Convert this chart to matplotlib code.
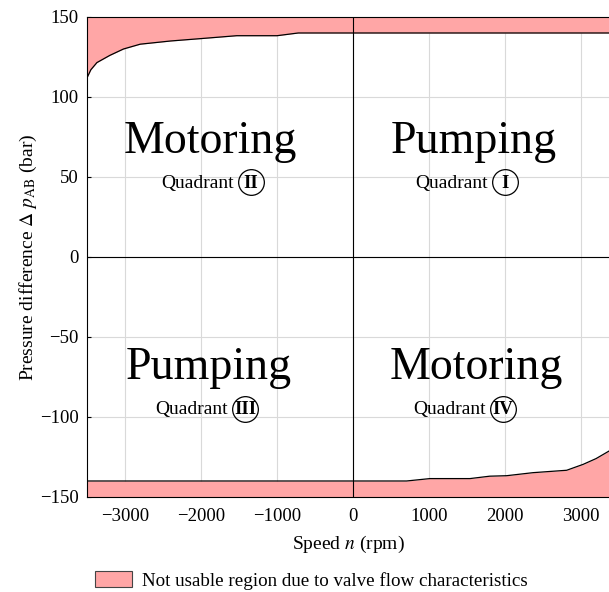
import numpy as np
import matplotlib
matplotlib.use('Agg')
import matplotlib.pyplot as plt
from matplotlib.patches import Patch

# Boundary of the usable region
speed_upper = [-3500, -3450, -3370, -3200, -3020, -2800, -2400, -2000, -1530, -1000, -720, 0, 1000, 2000, 3370]
dp_upper = [112, 117, 121.5, 126, 130, 133, 135, 136.5, 138.3, 138.3, 140, 140, 140, 140, 140]

speed_lower = [-3500, -1000, 0, 706, 1013, 1540, 1800, 2022, 2370, 2813, 3030, 3200, 3370]
dp_lower = [-140, -140, -140, -140, -138.5, -138.5, -137, -136.7, -134.8, -133.3, -129.6, -126, -121.3]

# (title, title x, title y, numeral, numeral x, numeral y)
quadrants = [
    ('Motoring', -1880, 72, 'II', -1342, 46),
    ('Pumping', 1590, 72, 'I', 2000, 46),
    ('Pumping', -1895, -69, 'III', -1421, -95.5),
    ('Motoring', 1620, -69, 'IV', 1974, -95.5),
]

x_ticks = [-3000, -2000, -1000, 0, 1000, 2000, 3000]
y_ticks = [-150, -100, -50, 0, 50, 100, 150]

fill_color = '#ffa6a6'


def main():
    plt.rcParams['font.family'] = ['Liberation Serif', 'DejaVu Serif']
    plt.rcParams['mathtext.fontset'] = 'stix'

    fig = plt.figure(figsize=(6.09, 5.92), dpi=100)
    ax = fig.add_axes([0.1429, 0.1605, 0.8571, 0.8108])

    # Not usable regions
    ax.fill_between(speed_upper, dp_upper, 150, color=fill_color, lw=0)
    ax.plot(speed_upper, dp_upper, color='black', lw=0.9)
    ax.fill_between(speed_lower, dp_lower, -150, color=fill_color, lw=0)
    ax.plot(speed_lower, dp_lower, color='black', lw=0.9)

    # Axes cross
    ax.axhline(0, color='black', lw=0.8)
    ax.axvline(0, color='black', lw=0.8)

    # Quadrant labels
    for title, tx, ty, numeral, nx, ny in quadrants:
        ax.text(tx, ty, title, fontsize=33, ha='center', va='center')
        ax.text(nx - 225, ny, 'Quadrant', fontsize=14, ha='right', va='center')
        ax.text(nx, ny, numeral, fontsize=13.5, fontweight='bold', ha='center', va='center')
        ax.plot(nx, ny + 0.6, 'o', ms=18.5, mfc='none', mec='black', mew=0.9)

    ax.set_xlim(-3500, 3370)
    ax.set_ylim(-150, 150)
    ax.set_xticks(x_ticks)
    ax.set_yticks(y_ticks)
    ax.tick_params(direction='in', length=3, labelsize=13.5)
    ax.tick_params(axis='x', pad=8)
    ax.tick_params(axis='y', pad=6)
    ax.grid(True, color='#d9d9d9', lw=0.8)
    ax.set_axisbelow(True)
    ax.spines['right'].set_visible(False)

    ax.set_xlabel('Speed $n$ (rpm)', fontsize=14, labelpad=6)
    ax.set_ylabel(r'Pressure difference $\Delta$ $p_{\mathrm{AB}}$ (bar)', fontsize=14, labelpad=1)

    handle = Patch(facecolor=fill_color, edgecolor='#444444', lw=0.8)
    fig.legend([handle], ['Not usable region due to valve flow characteristics'],
               loc='lower left', bbox_to_anchor=(0.1285, -0.025), frameon=False,
               fontsize=13.7, handlelength=1.9, handleheight=0.95, handletextpad=0.55)

    fig.savefig('out.png', dpi=100)


if __name__ == "__main__":
    main()
